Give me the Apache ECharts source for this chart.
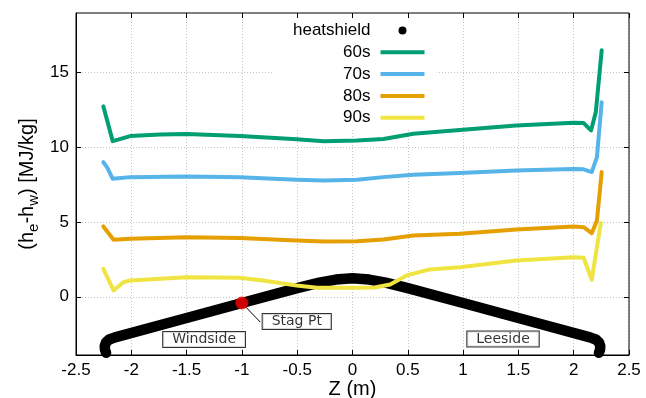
<!DOCTYPE html>
<html>
<head>
<meta charset="utf-8">
<script src="https://cdn.jsdelivr.net/npm/echarts@6/dist/echarts.min.js"></script>
<style>html,body{margin:0;padding:0;background:#fff}#c{width:646px;height:398px}</style>
</head>
<body>
<div id="c"></div>
<script>
// ---- data ----
const xTicks = [-2.5, -2, -1.5, -1, -0.5, 0, 0.5, 1, 1.5, 2, 2.5];
const yTicks = [0, 5, 10, 15];

const zShield = [-2.228, -2.238, -2.24, -2.228, -2.2, -2.147, -1.5, -1.0, -0.5, -0.3, -0.15, 0, 0.15, 0.3, 0.5, 1.0, 1.5, 2.147, 2.2, 2.228, 2.24, 2.238, 2.228];
const hShield = [-3.75, -3.55, -3.3, -3.05, -2.86, -2.72, -1.42, -0.42, 0.58, 0.95, 1.15, 1.24, 1.15, 0.95, 0.58, -0.42, -1.42, -2.72, -2.86, -3.05, -3.3, -3.55, -3.75];

const z60 = [-2.253, -2.168, -2.01, -1.74, -1.5, -1.017, -0.505, -0.26, 0.04, 0.28, 0.55, 0.97, 1.48, 2.0, 2.09, 2.157, 2.2, 2.253];
const h60 = [12.75, 10.42, 10.76, 10.87, 10.89, 10.76, 10.54, 10.42, 10.47, 10.56, 10.92, 11.16, 11.47, 11.65, 11.63, 11.14, 12.37, 16.5];

const z70 = [-2.253, -2.217, -2.168, -2.01, -1.5, -1.02, -0.505, -0.26, 0.04, 0.28, 0.55, 0.97, 1.48, 2.0, 2.09, 2.163, 2.21, 2.253];
const h70 = [9.02, 8.64, 7.90, 8.01, 8.06, 8.01, 7.84, 7.79, 7.84, 8.01, 8.17, 8.28, 8.46, 8.55, 8.53, 8.35, 9.35, 13.03];

const z80 = [-2.253, -2.16, -2.01, -1.5, -1.02, -0.505, -0.26, 0.04, 0.28, 0.55, 0.97, 1.48, 2.0, 2.09, 2.163, 2.21, 2.253];
const h80 = [4.71, 3.82, 3.88, 3.99, 3.93, 3.77, 3.70, 3.72, 3.84, 4.10, 4.22, 4.51, 4.71, 4.66, 4.26, 5.11, 8.35];

const z90 = [-2.253, -2.16, -2.07, -2.01, -1.5, -1.02, -0.81, -0.505, -0.32, 0.04, 0.2, 0.34, 0.49, 0.70, 0.97, 1.48, 2.0, 2.09, 2.163, 2.245];
const h90 = [1.87, 0.42, 0.98, 1.09, 1.31, 1.27, 1.09, 0.76, 0.60, 0.60, 0.62, 0.82, 1.43, 1.83, 1.98, 2.43, 2.65, 2.61, 1.14, 4.93];

const stagZ = [-1.0];
const stagH = [-0.42];
const arrowEndZ = -0.833;
const arrowEndH = -1.70;

const annText = ['Windside', 'Stag Pt', 'Leeside'];
const annZ = [-1.342, -0.504, 1.361];
const annH = [-2.86, -1.65, -2.83];

// ---- build ----
const pairs = (xs, ys) => xs.map((x, i) => [x, ys[i]]);
const FONT = 'Liberation Sans';

const lineSeries = (name, xs, ys, color) => ({
  name: name, type: 'line', data: pairs(xs, ys),
  showSymbol: false, symbol: 'circle', color: color,
  lineStyle: { width: 4, color: color, cap: 'round', join: 'round' },
  silent: true, z: 3
});

const chart = echarts.init(document.getElementById('c'), null, { renderer: 'canvas' });
chart.setOption({
  animation: false,
  backgroundColor: '#fff',
  grid: { left: 76, top: 13, width: 553, height: 342, outerBoundsMode: 'none', containLabel: false,
    show: true, borderColor: '#000', borderWidth: 1, backgroundColor: 'transparent', z: 5 },
  xAxis: [{
    type: 'value', min: -2.5, max: 2.5, interval: 0.5,
    name: 'Z (m)', nameLocation: 'middle', nameGap: 24, nameMoveOverlap: false,
    nameTextStyle: { fontFamily: FONT, fontSize: 20, color: '#000' },
    axisLine: { show: true, onZero: false, lineStyle: { color: '#000', width: 1 } },
    axisTick: { show: true, inside: true, length: 5, lineStyle: { color: '#000' } },
    axisLabel: { fontFamily: FONT, fontSize: 17, color: '#000', margin: 7 },
    splitLine: { show: true, lineStyle: { color: '#c4c4c4', width: 1, type: [1, 2] } }
  }, {
    type: 'value', position: 'top', min: -2.5, max: 2.5, interval: 0.5, z: 6,
    axisLine: { show: false, onZero: false },
    axisTick: { show: true, inside: true, length: 5, lineStyle: { color: '#000' } },
    axisLabel: { show: false }, splitLine: { show: false }
  }],
  yAxis: [{
    type: 'value', min: -3.9, max: 19,
    name: '{n|(h}{sub|e}{n|-h}{sub|w}{n|) [MJ/kg]}', nameLocation: 'middle', nameGap: 35, nameMoveOverlap: false,
    nameTextStyle: { fontFamily: FONT, fontSize: 20, color: '#000',
      rich: {
        n: { fontFamily: FONT, fontSize: 20, color: '#000' },
        sub: { fontFamily: FONT, fontSize: 15, color: '#000', padding: [12, 0, 0, 0] }
      } },
    axisLine: { show: true, onZero: false, lineStyle: { color: '#000', width: 1 } },
    axisTick: { show: true, inside: true, length: 5, customValues: yTicks, lineStyle: { color: '#000' } },
    axisLabel: { fontFamily: FONT, fontSize: 17, color: '#000', margin: 7, customValues: yTicks },
    splitLine: { show: true, lineStyle: { color: '#c4c4c4', width: 1, type: [1, 2] } }
  }, {
    type: 'value', position: 'right', min: -3.9, max: 19, z: 6,
    axisLine: { show: false, onZero: false },
    axisTick: { show: true, inside: true, length: 5, customValues: yTicks, lineStyle: { color: '#000' } },
    axisLabel: { show: false, customValues: yTicks }, splitLine: { show: false }
  }],
  legend: {
    orient: 'vertical', left: 272, top: 14, align: 'right',
    itemWidth: 44, itemHeight: 8, itemGap: 4.8,
    padding: [8, 10, 2, 21], backgroundColor: '#fff',
    selectedMode: false, z: 4,
    itemStyle: { opacity: 0 },
    lineStyle: { width: 4, cap: 'butt' },
    textStyle: { fontFamily: FONT, fontSize: 17, color: '#000', width: 80, padding: [0, 5, 0, 0] },
    data: [{ name: 'heatshield', icon: 'circle', itemStyle: { opacity: 1, color: '#000' } }, '60s', '70s', '80s', '90s']
  },
  series: [
    {
      name: 'heatshield', type: 'line', data: pairs(zShield, hShield),
      showSymbol: false, symbol: 'circle', color: '#000', clip: false,
      lineStyle: { width: 10.5, color: '#000', cap: 'round', join: 'round' },
      silent: true, z: 2
    },
    lineSeries('60s', z60, h60, '#009e73'),
    lineSeries('70s', z70, h70, '#56b4e9'),
    lineSeries('80s', z80, h80, '#e69f00'),
    lineSeries('90s', z90, h90, '#f0e442'),
    {
      name: 'stag', type: 'scatter', data: pairs(stagZ, stagH),
      symbol: 'circle', symbolSize: 13, itemStyle: { color: '#ff0000' }, z: 5, silent: true,
      markLine: {
        silent: true, symbol: ['none', 'arrow'], symbolSize: [0, 7], z: 4,
        lineStyle: { color: '#000', width: 1, type: 'solid' },
        label: { show: false },
        data: [[{ coord: [stagZ[0], stagH[0]] }, { coord: [arrowEndZ, arrowEndH] }]]
      }
    },
    {
      name: 'annotations', type: 'scatter', z: 6, silent: true,
      symbol: 'circle', symbolSize: 0, itemStyle: { color: 'transparent' },
      data: annText.map((t, i) => ({ name: t, value: [annZ[i], annH[i]] })),
      label: {
        show: true, position: 'inside', formatter: p => p.name,
        fontFamily: 'DejaVu Sans', fontSize: 14, color: '#000',
        backgroundColor: '#fff', borderColor: '#000', borderWidth: 1, padding: [1, 9, 0, 9]
      }
    }
  ]
});
</script>
</body>
</html>
